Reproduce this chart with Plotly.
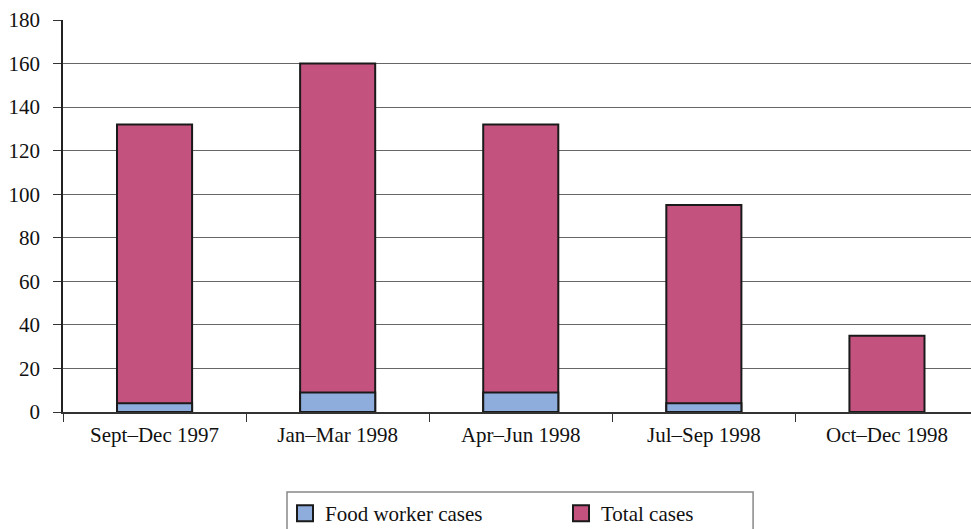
import plotly.graph_objects as go

categories = ["Sept–Dec 1997", "Jan–Mar 1998", "Apr–Jun 1998", "Jul–Sep 1998", "Oct–Dec 1998"]
food_worker_cases = [4, 9, 9, 4, 0]
total_cases = [132, 160, 132, 95, 35]
y_ticks = [0, 20, 40, 60, 80, 100, 120, 140, 160, 180]

PINK = "#C4527F"
BLUE = "#8EADDC"
EDGE = "#1a1a1a"
FONT = "Liberation Serif"

fig = go.Figure()
fig.add_trace(go.Bar(
    x=categories, y=total_cases, name="Total cases",
    marker=dict(color=PINK, line=dict(color=EDGE, width=2)),
    width=0.41, showlegend=False,
))
fig.add_trace(go.Bar(
    x=categories, y=food_worker_cases, name="Food worker cases",
    marker=dict(color=BLUE, line=dict(color=EDGE, width=2)),
    width=0.41, showlegend=False,
))
# legend entries with larger square swatches
for name, col, rank in [("Food worker cases", BLUE, 1), ("Total cases", PINK, 2)]:
    fig.add_trace(go.Scatter(
        x=[None], y=[None], mode="markers", name=name, legendrank=rank,
        marker=dict(symbol="square", size=16, color=col, line=dict(color=EDGE, width=2)),
    ))

fig.add_shape(
    type="rect", xref="paper", yref="paper",
    x0=0.2467, x1=0.760, y0=-0.204, y1=-0.35,
    line=dict(color="#888", width=1.5), fillcolor="rgba(0,0,0,0)", layer="below",
)

fig.update_layout(
    width=971, height=529,
    barmode="overlay",
    plot_bgcolor="white", paper_bgcolor="white",
    margin=dict(l=63, r=0, t=20, b=117, autoexpand=False),
    font=dict(family=FONT, size=21, color="#111"),
    showlegend=True,
    legend=dict(
        orientation="h", x=0.2445, xanchor="left", y=-0.207, yanchor="top",
        borderwidth=0, entrywidth=231, bgcolor="rgba(0,0,0,0)",
        font=dict(family=FONT, size=21, color="#111"),
        traceorder="normal",
    ),
    xaxis=dict(
        type="category", range=[-0.5, 4.459],
        showline=True, linecolor="#333", linewidth=1.5,
        ticks="outside", tickson="boundaries", ticklen=8, tickcolor="#333",
        ticklabelstandoff=3, showgrid=False,
    ),
    yaxis=dict(
        range=[0, 180], tickvals=y_ticks,
        showline=True, linecolor="#222", linewidth=1.5,
        ticks="outside", ticklen=8, tickcolor="#333", ticklabelstandoff=9,
        showgrid=True, gridcolor="#666", gridwidth=1,
        zeroline=False,
    ),
)

fig.write_html("out.html")
